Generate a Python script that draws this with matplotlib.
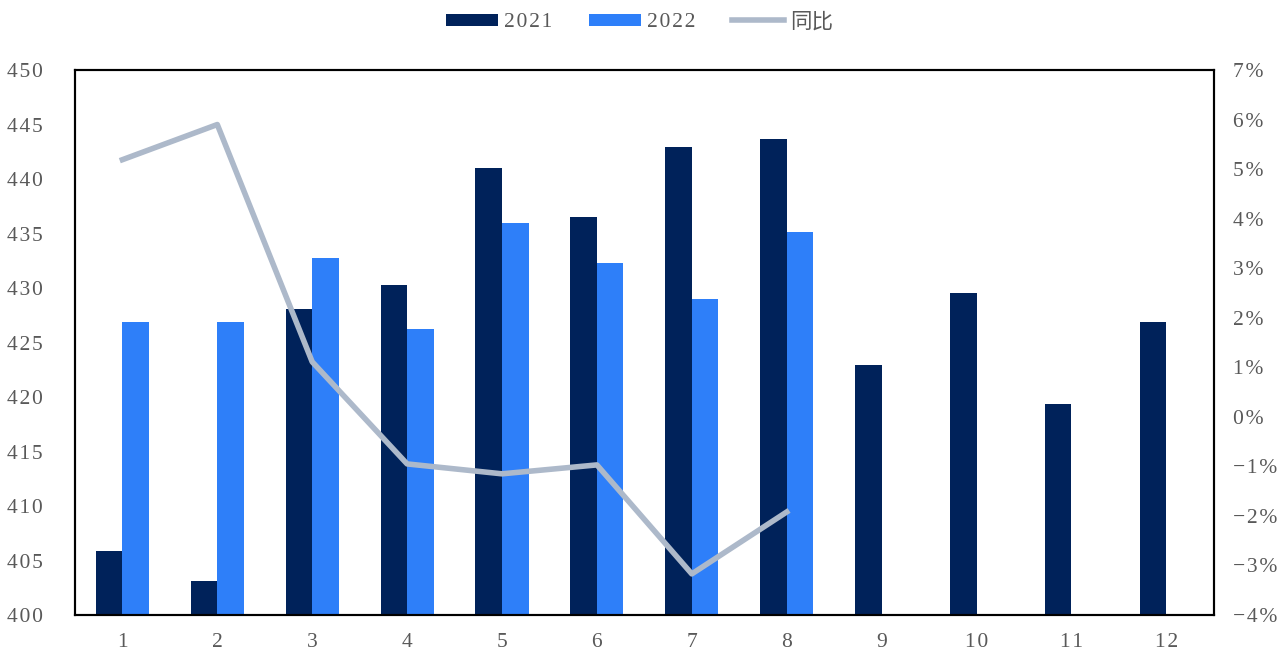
import numpy as np
import matplotlib.pyplot as plt
from matplotlib.ticker import FuncFormatter

months = [str(i) for i in range(1, 13)]
v2021 = [405.9, 403.1, 428.1, 430.3, 441.0, 436.5, 442.9, 443.7, 422.9, 429.5, 419.4, 426.9]
v2022 = [426.9, 426.9, 432.8, 426.2, 436.0, 432.3, 429.0, 435.1]
yoy = [5.19, 5.90, 1.11, -0.95, -1.15, -0.97, -3.17, -1.92]

plt.rcParams['font.family'] = ['Liberation Serif', 'Noto Sans CJK SC', 'DejaVu Sans']
grey = '#595959'
sp = '\u200a'


def spaced(s):
    # the reference uses a little letter spacing
    return sp.join(s)


fig = plt.figure(figsize=(12.79, 6.52), dpi=100)
ax = fig.add_axes([0.0586, 0.0567, 0.8904, 0.8359])
ax2 = ax.twinx()

x = np.arange(len(months))
w = 0.28
b1 = ax.bar(x - w / 2, np.array(v2021) - 400, w, bottom=400, color='#00225a', label='2021')
b2 = ax.bar(x[:len(v2022)] + w / 2, np.array(v2022) - 400, w, bottom=400, color='#2e7ff9', label='2022')
l1, = ax2.plot(x[:len(yoy)], yoy, color='#adb9ca', lw=4, label='同比')

ax.set_ylim(400, 450)
ax.set_yticks(range(400, 451, 5))
ax.yaxis.set_major_formatter(FuncFormatter(lambda v, p: spaced(f'{int(v)}')))
ax.set_xlim(-0.5, 11.5)
ax.set_xticks(x)
ax.set_xticklabels([spaced(m) for m in months])
ax2.set_ylim(-4, 7)
ax2.set_yticks(range(-4, 8))
ax2.yaxis.set_major_formatter(FuncFormatter(lambda v, p: spaced(f'{int(v)}%'.replace('-', '\u2212'))))

for a in (ax, ax2):
    a.tick_params(length=0, labelsize=15.5, colors=grey)
    for s in a.spines.values():
        s.set_color('black')
        s.set_linewidth(1.5)
ax.tick_params(axis='x', pad=13)
ax.tick_params(axis='y', pad=23)
ax2.tick_params(axis='y', pad=14)

leg = fig.legend([b1, b2, l1], [spaced('2021'), spaced('2022'), '同比'], loc='upper center',
                 bbox_to_anchor=(0.5, 1.01), ncol=3, frameon=False, fontsize=15.5,
                 handlelength=2.4, handleheight=0.5, columnspacing=1.7, handletextpad=0.3)
for t in leg.get_texts():
    t.set_color(grey)

fig.savefig('out.png', dpi=100)
